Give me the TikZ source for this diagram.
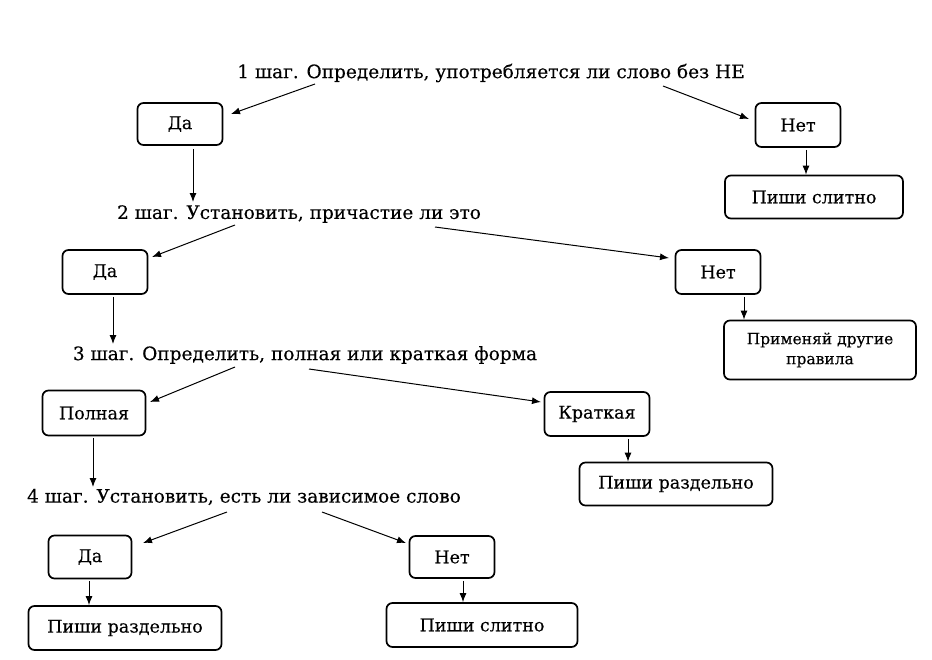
\documentclass[tikz,border=0pt]{standalone}
\usepackage{fontspec}
\setmainfont{DejaVu Serif}[FakeBold=0.3]
\usetikzlibrary{arrows.meta}
\begin{document}
\begin{tikzpicture}[x=1pt,y=-1pt,
  stepbox/.style={draw,rounded corners=6pt,line width=1.7pt,inner sep=0pt,align=center,font=\fontsize{17.5}{20}\selectfont},
  head/.style={inner sep=0pt,font=\fontsize{18.5}{22}\selectfont},
  arr/.style={line width=1pt,-{Latex[length=9pt,width=7pt]}}]
\useasboundingbox (0,0) rectangle (932,659);
% step 1
\node[head] (t1) at (491,73) {1 шаг. Определить, употребляется ли слово без НЕ};
\node[stepbox,minimum width=85,minimum height=42] (d1) at (180,124) {Да};
\node[stepbox,minimum width=85,minimum height=44] (n1) at (798,125) {Нет};
\node[stepbox,minimum width=178,minimum height=43] (p1) at (814,197) {Пиши слитно};
\coordinate (t1a) at (315,84); \coordinate (t1b) at (663,86);
\coordinate (d1e) at (231,114); \coordinate (n1e) at (749,119);
\draw[arr] (t1a) -- (d1e);
\draw[arr] (t1b) -- (n1e);
\draw[arr] ([xshift=8]n1.south) ++(0,2) -- ([xshift=8]n1.south |- p1.north) ;
% step 2
\node[head] (t2) at (299,214) {2 шаг. Установить, причастие ли это};
\coordinate (t2top) at (193,202);
\draw[arr] ([xshift=13]d1.south) ++(0,3) -- (t2top);
\node[stepbox,minimum width=85,minimum height=44] (d2) at (105,272) {Да};
\node[stepbox,minimum width=85,minimum height=44] (n2) at (718,272) {Нет};
\node[stepbox,minimum width=192,minimum height=59,font=\fontsize{15.5}{20}\selectfont] (p2) at (820,350) {Применяй другие\\правила};
\coordinate (t2a) at (235,225); \coordinate (t2b) at (435,227);
\coordinate (d2e) at (152,257); \coordinate (n2e) at (669,258);
\draw[arr] (t2a) -- (d2e);
\draw[arr] (t2b) -- (n2e);
\draw[arr] ([xshift=26]n2.south) ++(0,2) -- ([xshift=26]n2.south |- p2.north);
% step 3
\node[head] (t3) at (305,355) {3 шаг. Определить, полная или краткая форма};
\coordinate (t3top) at (113,344);
\draw[arr] ([xshift=8]d2.south) ++(0,2) -- (t3top);
\node[stepbox,minimum width=103,minimum height=45] (pol) at (94,413) {Полная};
\node[stepbox,minimum width=105,minimum height=44] (kr) at (597,414) {Краткая};
\node[stepbox,minimum width=193,minimum height=43] (p3) at (676,484) {Пиши раздельно};
\coordinate (t3a) at (235,367); \coordinate (t3b) at (309,369);
\coordinate (pole) at (150,402); \coordinate (kre) at (541,402);
\draw[arr] (t3a) -- (pole);
\draw[arr] (t3b) -- (kre);
\draw[arr] ([xshift=31]kr.south) ++(0,2) -- ([xshift=31]kr.south |- p3.north);
% step 4
\node[head] (t4) at (244,497) {4 шаг. Установить, есть ли зависимое слово};
\coordinate (t4top) at (93,487);
\draw[arr] ([xshift=-1]pol.south) ++(0,2) -- (t4top);
\node[stepbox,minimum width=83,minimum height=43] (d4) at (90,557) {Да};
\node[stepbox,minimum width=85,minimum height=42] (n4) at (452,557) {Нет};
\node[stepbox,minimum width=193,minimum height=44] (p4) at (125,628) {Пиши раздельно};
\node[stepbox,minimum width=191,minimum height=44] (p5) at (482,625) {Пиши слитно};
\coordinate (t4a) at (227,512); \coordinate (t4b) at (322,512);
\coordinate (d4e) at (143,543); \coordinate (n4e) at (406,543);
\draw[arr] (t4a) -- (d4e);
\draw[arr] (t4b) -- (n4e);
\draw[arr] ([xshift=-1]d4.south) ++(0,2) -- ([xshift=-1]d4.south |- p4.north);
\draw[arr] ([xshift=11]n4.south) ++(0,2) -- ([xshift=11]n4.south |- p5.north);
\end{tikzpicture}
\end{document}
